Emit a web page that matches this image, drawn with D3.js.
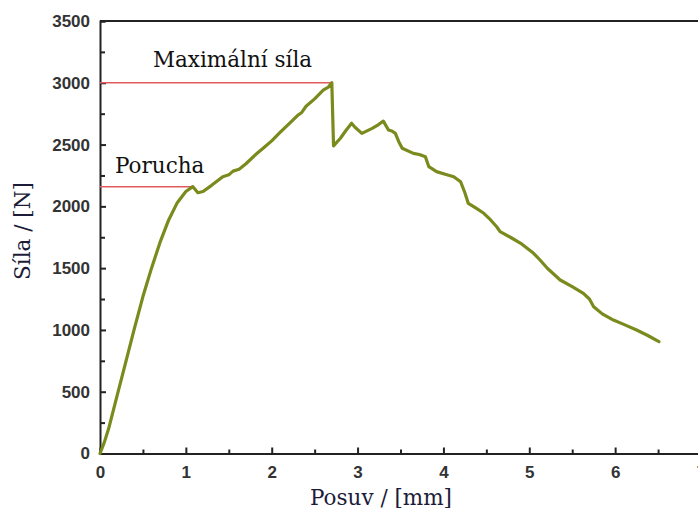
<!DOCTYPE html>
<html>
<head>
<meta charset="utf-8">
<script src="https://cdnjs.cloudflare.com/ajax/libs/d3/7.8.5/d3.min.js"></script>
<style>
  body { margin: 0; background: #fff; }
  svg { display: block; }
</style>
</head>
<body>
<script>
//displacement in mm and the measured force in N
var posuv = [0, 0.05, 0.1, 0.2, 0.3, 0.4, 0.5, 0.6, 0.7, 0.8, 0.9, 1.0, 1.08, 1.14, 1.2, 1.3,
  1.43, 1.5, 1.55, 1.62, 1.7, 1.83, 1.9, 2.0, 2.1, 2.21, 2.3, 2.35, 2.4, 2.5, 2.6, 2.66, 2.70, 2.72,
  2.80, 2.86, 2.93, 2.97, 3.05, 3.17, 3.24, 3.30, 3.36, 3.40, 3.44, 3.48, 3.52, 3.65, 3.72, 3.79,
  3.83, 3.92, 4.02, 4.12, 4.20, 4.25, 4.29, 4.38, 4.47, 4.55, 4.62, 4.66, 4.78, 4.90, 5.05, 5.12,
  5.21, 5.36, 5.5, 5.63, 5.70, 5.75, 5.85, 5.98, 6.1, 6.25, 6.38, 6.51];
var sila = [0, 90, 200, 470, 740, 1010, 1270, 1500, 1710, 1890, 2030, 2120, 2160, 2110, 2120, 2170,
  2240, 2255, 2285, 2300, 2345, 2430, 2470, 2530, 2600, 2674, 2735, 2760, 2810, 2870, 2941, 2965, 3000, 2490,
  2551, 2610, 2672, 2640, 2591, 2631, 2660, 2690, 2618, 2610, 2591, 2523, 2470, 2429, 2420, 2402,
  2321, 2281, 2260, 2240, 2199, 2110, 2024, 1985, 1944, 1890, 1835, 1795, 1750, 1701, 1620, 1570,
  1499, 1404, 1350, 1296, 1250, 1188, 1130, 1080, 1045, 999, 955, 905];

var xTicks = [0, 1, 2, 3, 4, 5, 6, 7];
var yTicks = [0, 500, 1000, 1500, 2000, 2500, 3000, 3500];

//red guide lines: label, force level, where the line ends on x
var notes = ["Maximální síla", "Porucha"];
var noteForce = [3000, 2158];
var noteEnd = [2.70, 1.08];

var width = 698, height = 508;
var svg = d3.select("body").append("svg")
  .attr("width", width)
  .attr("height", height);

var x = d3.scaleLinear().domain([0, 7]).range([100, 701]);
var y = d3.scaleLinear().domain([0, 3500]).range([453.5, 21]);

var tickFont = "'Liberation Sans', Arial, sans-serif";
var serif = "'DejaVu Serif', serif";

//top frame line
svg.append("line")
  .attr("x1", x(0)).attr("x2", x(7))
  .attr("y1", y(3500)).attr("y2", y(3500))
  .style("stroke", "#222").style("stroke-width", 2);

//axes, ticks pointing inward
var xAxis = svg.append("g")
  .attr("transform", "translate(0," + y(0) + ")")
  .call(d3.axisTop(x).tickValues(d3.range(0, 7.01, 0.5)).tickSize(4).tickFormat(""));
var xLab = svg.append("g")
  .attr("transform", "translate(0," + y(0) + ")")
  .call(d3.axisBottom(x).tickValues(xTicks).tickSize(0).tickPadding(12).tickFormat(d3.format("d")));

var yAxis = svg.append("g")
  .attr("transform", "translate(" + x(0) + ",0)")
  .call(d3.axisRight(y).tickValues(d3.range(0, 3501, 250)).tickSize(5).tickFormat(""));
var yLab = svg.append("g")
  .attr("transform", "translate(" + x(0) + ",0)")
  .call(d3.axisLeft(y).tickValues(yTicks).tickSize(0).tickPadding(10).tickFormat(d3.format("d")));

//major ticks a bit longer
xAxis.selectAll(".tick line").filter(function(d){ return d % 1 == 0; }).attr("y2", -6);
yAxis.selectAll(".tick line").filter(function(d){ return d % 500 == 0; }).attr("x2", 6);

[xAxis, yAxis, xLab, yLab].forEach(function(g){
  g.selectAll(".domain").style("stroke", "#222").style("stroke-width", 2);
  g.selectAll(".tick line").style("stroke", "#222").style("stroke-width", 2);
  g.selectAll("text")
    .style("font-family", tickFont)
    .style("font-weight", "bold")
    .style("font-size", "17px")
    .style("fill", "#333");
});
xLab.select(".domain").remove();
yLab.select(".domain").remove();

//guide lines for failure and maximum force
notes.forEach(function(n, i){
  svg.append("line")
    .attr("x1", x(0)).attr("x2", x(noteEnd[i]))
    .attr("y1", y(noteForce[i])).attr("y2", y(noteForce[i]))
    .style("stroke", "#e05a5e").style("stroke-width", 1.5);
});

//the force curve
var line = d3.line()
  .x(function(d, i){ return x(posuv[i]); })
  .y(function(d, i){ return y(sila[i]); });
svg.append("path")
  .datum(sila)
  .attr("d", line)
  .style("fill", "none")
  .style("stroke", "#7b8a1c")
  .style("stroke-width", 3.2)
  .style("stroke-linejoin", "round")
  .style("stroke-linecap", "round");

//annotation texts
svg.append("text")
  .attr("x", 153).attr("y", 67)
  .text(notes[0])
  .style("font-family", serif).style("font-size", "21.5px").style("fill", "#111");
svg.append("text")
  .attr("x", 115).attr("y", 173)
  .text(notes[1])
  .style("font-family", serif).style("font-size", "21.5px").style("fill", "#111");

//axis titles
svg.append("text")
  .attr("x", 381).attr("y", 505)
  .attr("text-anchor", "middle")
  .text("Posuv / [mm]")
  .style("font-family", serif).style("font-size", "21.5px").style("fill", "#1c1c3a");
svg.append("text")
  .attr("transform", "translate(30,231) rotate(-90)")
  .attr("text-anchor", "middle")
  .text("Síla / [N]")
  .style("font-family", serif).style("font-size", "21.5px").style("fill", "#1c1c3a");
</script>
</body>
</html>
